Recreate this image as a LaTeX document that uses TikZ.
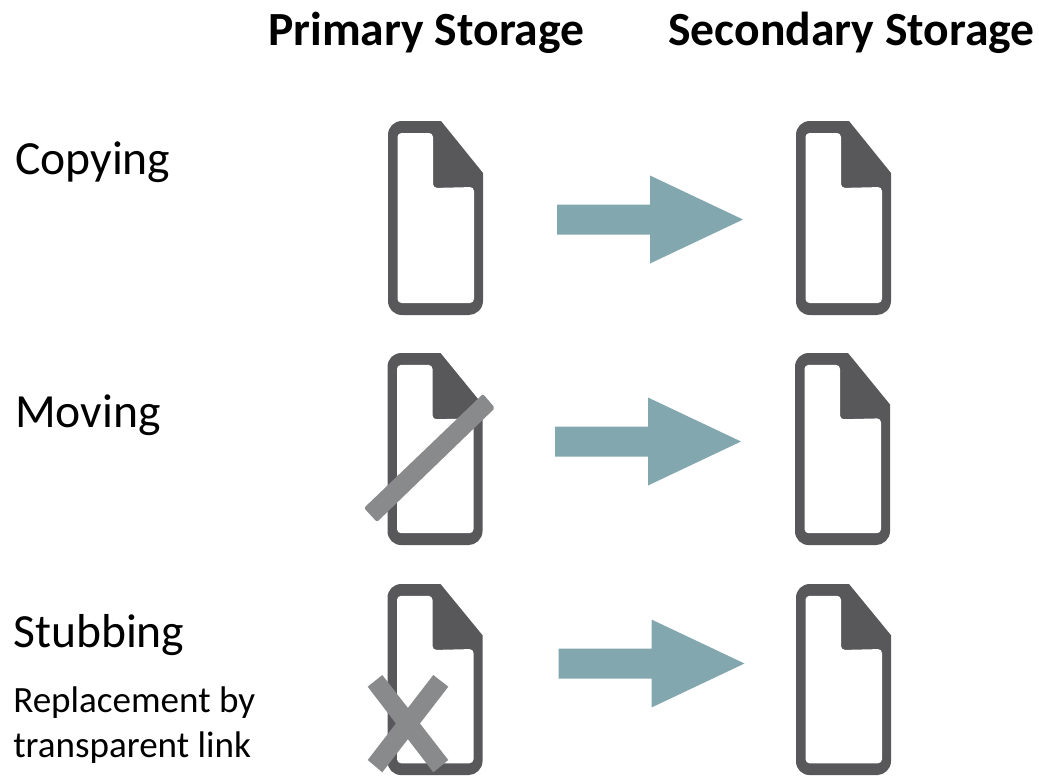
\documentclass[tikz,border=0pt]{standalone}
\usepackage{fontspec}
\setmainfont{Carlito}
\usepackage{xcolor}
\definecolor{docgray}{HTML}{58585A}
\definecolor{crossgray}{HTML}{898A8C}
\definecolor{arrowteal}{HTML}{83A7AE}
\usetikzlibrary{positioning}
\tikzset{
    heading/.style={font=\fontsize{35.7}{42}\selectfont\bfseries, anchor=base west, inner sep=0pt},
    rowlabel/.style={font=\fontsize{35.7}{42}\selectfont, anchor=base west, inner sep=0pt},
    sublabel/.style={font=\fontsize{27.8}{34}\selectfont, anchor=base west, inner sep=0pt},
    crossbar/.style={fill=crossgray, rounded corners=1.5},
    docicon/.pic={
        \fill[docgray, line join=round]
            (14,0) -- (53,0) -- (95,52) -- (95,180)
            .. controls (95,188) and (88,194) .. (81,194) -- (14,194)
            .. controls (6,194) and (0,188) .. (0,180) -- (0,14)
            .. controls (0,6) and (6,0) .. (14,0) -- cycle;
        \fill[white, rounded corners=3]
            (9.5,12) -- (45,12) -- (45,67) -- (86,66) -- (86,182) -- (9.5,182) -- cycle;
    },
    blockarrow/.pic={
        \fill[arrowteal] (0,-15) -- (93,-15) -- (93,-44) -- (186,0) -- (93,44) -- (93,15) -- (0,15) -- cycle;
    }
}
\begin{document}
\begin{tikzpicture}[x=0.75pt, y=-0.75pt]
    \useasboundingbox (0,0) rectangle (1039,775);

    % Headings
    \node[heading] (primary) at (268,45) {Primary Storage};
    \node[heading] (secondary) at (668,45) {Secondary Storage};

    % Row labels
    \node[rowlabel] (copying) at (15,174) {Copying};
    \node[rowlabel] (moving) at (15,427) {Moving};
    \node[rowlabel] (stubbing) at (13,647) {Stubbing};
    \node[sublabel] (replacement) at (13,712) {Replacement by};
    \node[sublabel] (link) at (13,757) {transparent link};

    % Files
    \pic at (388,121) {docicon};
    \pic at (796,121) {docicon};
    \pic[yscale=0.99] at (387.5,353) {docicon};
    \pic[yscale=0.99] at (795,353) {docicon};
    \pic[yscale=0.985] at (387.5,584) {docicon};
    \pic[yscale=0.985] at (796,584) {docicon};

    % Arrows
    \pic at (557,219.5) {blockarrow};
    \pic at (555,441.5) {blockarrow};
    \pic at (558.5,663.5) {blockarrow};

    % Moved file is struck out
    \fill[crossbar] (364,508) -- (483,394) -- (495,408) -- (377,522) -- cycle;

    % Stubbed file is crossed out
    \fill[crossgray] (367.7,686.7) -- (382.3,675) -- (448.3,760) -- (433.3,772.3) -- cycle;
    \fill[crossgray] (448.3,686.7) -- (433.3,675) -- (367.7,760) -- (382.3,772.3) -- cycle;
\end{tikzpicture}
\end{document}
